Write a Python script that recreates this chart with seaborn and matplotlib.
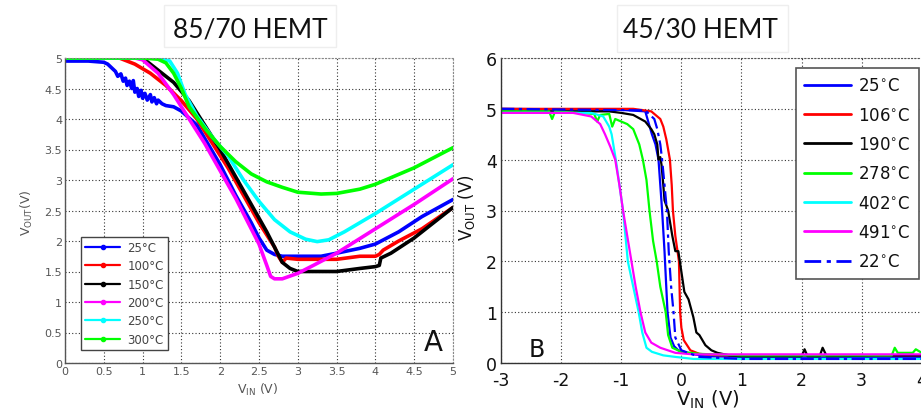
import matplotlib
matplotlib.use("Agg")
import matplotlib.pyplot as plt
import seaborn as sns
import pandas as pd
from matplotlib.lines import Line2D
from matplotlib.patches import Rectangle

sns.set_style("white")
plt.rcParams['font.family'] = ['DejaVu Sans']

# ---------------- Panel A data (85/70 HEMT) ----------------
a_labels = ["25°C", "100°C", "150°C", "200°C", "250°C", "300°C"]
a_colors = ["#0000ff", "#ff0000", "#000000", "#ff00ff", "#00ffff", "#00ff00"]

a25_x = [0, 0.3, 0.5, 0.55, 0.6, 0.65, 0.68, 0.72, 0.75, 0.78, 0.8, 0.83, 0.86, 0.88, 0.9, 0.93, 0.95,
         0.98, 1.0, 1.03, 1.06, 1.1, 1.12, 1.15, 1.18, 1.2, 1.25, 1.3, 1.4, 1.5, 1.7, 2.0, 2.2, 2.4,
         2.5, 2.6, 2.7, 2.8, 3.0, 3.3, 3.5, 3.8, 4.0, 4.3, 4.6, 5.0]
a25_y = [4.95, 4.95, 4.93, 4.9, 4.84, 4.78, 4.7, 4.74, 4.62, 4.67, 4.55, 4.62, 4.5, 4.63, 4.44, 4.5, 4.37,
         4.47, 4.34, 4.42, 4.31, 4.4, 4.28, 4.35, 4.25, 4.31, 4.25, 4.22, 4.2, 4.13, 3.9, 3.25, 2.75, 2.3,
         2.05, 1.85, 1.78, 1.75, 1.75, 1.75, 1.8, 1.88, 1.95, 2.15, 2.4, 2.68]
a100_x = [0, 0.7, 0.9, 1.1, 1.3, 1.5, 1.7, 1.9, 2.1, 2.3, 2.5, 2.6, 2.7, 2.75, 2.8, 2.85, 3.0, 3.5,
          3.8, 4.0, 4.05, 4.1, 4.3, 4.6, 5.0]
a100_y = [5.0, 5.0, 4.9, 4.75, 4.55, 4.3, 4.0, 3.6, 3.2, 2.75, 2.3, 2.1, 1.9, 1.75, 1.65, 1.72, 1.7, 1.7,
          1.75, 1.75, 1.78, 1.85, 2.0, 2.2, 2.55]
a150_x = [0, 1.0, 1.2, 1.4, 1.6, 1.8, 2.0, 2.2, 2.4, 2.6, 2.7, 2.8, 2.9, 3.0, 3.5, 3.8, 4.0, 4.05,
          4.07, 4.2, 4.5, 5.0]
a150_y = [5.0, 5.0, 4.8, 4.6, 4.3, 3.9, 3.5, 3.05, 2.6, 2.15, 1.9, 1.65, 1.55, 1.5, 1.5, 1.55, 1.58, 1.6,
          1.72, 1.8, 2.05, 2.55]
a200_x = [0, 0.9, 1.0, 1.2, 1.4, 1.6, 1.8, 2.0, 2.2, 2.4, 2.5, 2.6, 2.65, 2.7, 2.8, 3.0, 3.2, 3.5,
          4.0, 4.5, 5.0]
a200_y = [5.0, 5.0, 4.97, 4.75, 4.4, 4.0, 3.6, 3.15, 2.7, 2.2, 1.95, 1.6, 1.42, 1.38, 1.38, 1.47, 1.6,
          1.8, 2.2, 2.6, 3.02]
a250_x = [0, 1.2, 1.35, 1.45, 1.55, 1.7, 1.9, 2.1, 2.3, 2.5, 2.7, 2.9, 3.1, 3.25, 3.4, 3.6, 4.0,
          4.5, 5.0]
a250_y = [5.0, 5.0, 4.95, 4.75, 4.4, 4.05, 3.7, 3.4, 3.0, 2.65, 2.35, 2.15, 2.03, 1.99, 2.02, 2.15, 2.45,
          2.85, 3.25]
a300_x = [0, 1.0, 1.2, 1.3, 1.4, 1.5, 1.6, 1.8, 2.0, 2.2, 2.4, 2.6, 2.8, 3.0, 3.3, 3.5, 3.8, 4.0,
          4.5, 5.0]
a300_y = [5.0, 5.0, 4.98, 4.92, 4.75, 4.5, 4.2, 3.85, 3.55, 3.3, 3.1, 2.97, 2.88, 2.8, 2.77, 2.78, 2.85,
          2.93, 3.2, 3.53]
a_series = [(a25_x, a25_y), (a100_x, a100_y), (a150_x, a150_y), (a200_x, a200_y),
            (a250_x, a250_y), (a300_x, a300_y)]

# ---------------- Panel B data (45/30 HEMT) ----------------
b_labels = ["25$^{\\circ}$C", "106$^{\\circ}$C", "190$^{\\circ}$C", "278$^{\\circ}$C",
            "402$^{\\circ}$C", "491$^{\\circ}$C", "22$^{\\circ}$C"]
b_colors = ["#0000ff", "#ff0000", "#000000", "#00ff00", "#00ffff", "#ff00ff", "#0000ff"]

b25_x = [-3, -1.0, -0.6, -0.49, -0.43, -0.38, -0.35, -0.32, -0.28, -0.23, -0.18, -0.12, -0.05, 0.2, 0.5, 1.0, 4.0]
b25_y = [5.0, 4.98, 4.95, 4.5, 4.3, 4.0, 3.5, 3.0, 2.2, 1.0, 0.5, 0.33, 0.25, 0.17, 0.13, 0.12, 0.12]
b106_x = [-3, -0.8, -0.5, -0.35, -0.3, -0.25, -0.19, -0.16, -0.14, -0.1, -0.04, -0.02, 0.0, 0.04, 0.15, 0.3, 0.6, 4.0]
b106_y = [5.0, 5.0, 4.95, 4.8, 4.65, 4.4, 4.0, 3.5, 3.0, 2.5, 2.0, 1.0, 0.7, 0.45, 0.25, 0.18, 0.15, 0.15]
b190_x = [-3, -1.2, -1.0, -0.8, -0.6, -0.5, -0.45, -0.4, -0.38, -0.35, -0.33, -0.3, -0.28, -0.22, -0.15,
          -0.1, -0.05, 0.0, 0.05, 0.12, 0.2, 0.25, 0.3, 0.4, 0.5, 0.6, 0.8, 1.0, 2.0, 2.05, 2.1, 2.3,
          2.35, 2.42, 3.3, 4.0]
b190_y = [4.95, 4.95, 4.92, 4.88, 4.75, 4.6, 4.5, 4.3, 4.0, 4.05, 3.9, 3.5, 3.2, 3.0, 2.5, 2.2, 2.2, 1.8,
          1.4, 1.25, 0.9, 0.6, 0.55, 0.35, 0.25, 0.2, 0.15, 0.13, 0.13, 0.27, 0.13, 0.13, 0.3, 0.13, 0.15, 0.15]
b278_x = [-3, -2.2, -2.15, -2.1, -1.45, -1.4, -1.35, -1.2, -1.15, -1.1, -0.9, -0.8, -0.7, -0.64, -0.58,
          -0.53, -0.47, -0.41, -0.35, -0.26, -0.22, -0.15, 0.0, 0.3, 1.0, 2.5, 3.5, 3.55, 3.6, 3.85, 3.9, 4.0]
b278_y = [4.95, 4.95, 4.8, 4.95, 4.9, 4.75, 4.88, 4.9, 4.65, 4.8, 4.7, 4.6, 4.3, 4.0, 3.6, 3.0, 2.4, 2.0,
          1.5, 1.0, 0.55, 0.3, 0.22, 0.18, 0.15, 0.15, 0.15, 0.3, 0.2, 0.2, 0.27, 0.2]
b402_x = [-3, -1.5, -1.3, -1.2, -1.16, -1.09, -1.03, -0.97, -0.93, -0.89, -0.8, -0.71, -0.65, -0.58, -0.49,
          -0.3, -0.1, 0.2, 4.0]
b402_y = [4.92, 4.92, 4.85, 4.65, 4.5, 4.0, 3.5, 3.0, 2.5, 2.0, 1.5, 1.0, 0.6, 0.3, 0.22, 0.15, 0.12, 0.08, 0.08]
b491_x = [-3, -1.8, -1.5, -1.35, -1.27, -1.18, -1.1, -1.03, -0.97, -0.9, -0.83, -0.76, -0.68, -0.6, -0.5,
          -0.35, -0.1, 0.2, 4.0]
b491_y = [4.92, 4.92, 4.85, 4.7, 4.5, 4.25, 4.0, 3.5, 3.0, 2.5, 2.0, 1.5, 1.0, 0.6, 0.4, 0.3, 0.2, 0.17, 0.17]
b22_x = [-3, -0.6, -0.45, -0.4, -0.35, -0.32, -0.28, -0.24, -0.21, -0.17, -0.13, -0.1, 0.0, 0.3, 1.0, 4.0]
b22_y = [5.0, 4.97, 4.8, 4.6, 4.3, 4.0, 3.5, 3.0, 2.2, 1.5, 1.0, 0.5, 0.25, 0.12, 0.08, 0.08]
b_series = [(b25_x, b25_y), (b106_x, b106_y), (b190_x, b190_y), (b278_x, b278_y),
            (b402_x, b402_y), (b491_x, b491_y), (b22_x, b22_y)]

# ---------------- Figure ----------------
W, H = 921, 414
fig = plt.figure(figsize=(W / 100, H / 100), dpi=100)
fig.patch.set_facecolor("white")


def fx(px):
    return px / W


def fy(py):
    return 1 - py / H


grid_kw = dict(color="#333333", linestyle=(0, (1, 2)), linewidth=0.8)

# ----- Panel A -----
axA = fig.add_axes([fx(65), fy(364), fx(453) - fx(65), fy(59) - fy(364)])
for (x, y), lab, col in zip(a_series, a_labels, a_colors):
    sns.lineplot(x=x, y=y, ax=axA, color=col, lw=2.6, sort=False, estimator=None, legend=False)
axA.set_xlim(0, 5)
axA.set_ylim(0, 5)
axA.set_xticks([0, 0.5, 1, 1.5, 2, 2.5, 3, 3.5, 4, 4.5, 5])
axA.set_xticklabels(["0", "0.5", "1", "1.5", "2", "2.5", "3", "3.5", "4", "4.5", "5"])
axA.set_yticks([0, 0.5, 1, 1.5, 2, 2.5, 3, 3.5, 4, 4.5, 5])
axA.set_yticklabels(["0", "0.5", "1", "1.5", "2", "2.5", "3", "3.5", "4", "4.5", "5"])
axA.tick_params(labelsize=8, labelcolor="#555555", direction="in", length=3, color="#555555", pad=2)
axA.grid(True, **grid_kw)
for s in ["left", "bottom"]:
    axA.spines[s].set_color("#555555")
    axA.spines[s].set_linewidth(1.0)
for s in ["top", "right"]:
    axA.spines[s].set_color("#888888")
    axA.spines[s].set_linestyle((0, (1, 2)))
    axA.spines[s].set_linewidth(0.8)
axA.set_xlabel("")
axA.set_ylabel("")
handlesA = [Line2D([0], [0], color=c, lw=1.6, marker=".", markersize=6) for c in a_colors]
legA = axA.legend(handlesA, a_labels, loc="upper left", bbox_to_anchor=(0.041, 0.413), borderaxespad=0,
                  fontsize=8.5, labelspacing=0.45, handlelength=3.0, handletextpad=0.6, fancybox=False,
                  framealpha=1, edgecolor="#444444", numpoints=1, borderpad=0.35)
for t in legA.get_texts():
    t.set_color("#444444")
legA.get_frame().set_linewidth(1.0)
axA.text(4.75, 0.35, "A", fontsize=20, ha="center", va="center", color="#111111")
fig.text(fx(27), fy(213), "V$_{\\rm OUT}$(V)", rotation=90, ha="center", va="center",
         fontsize=9, color="#555555")
fig.text(fx(258), fy(390), "V$_{\\rm IN}$ (V)", ha="center", va="center", fontsize=9, color="#555555")

# ----- Panel B -----
axB = fig.add_axes([fx(501), fy(364), fx(921.8) - fx(501), fy(59) - fy(364)])
styles = ["-", "-", "-", "-", "-", "-", (0, (6, 2, 1.5, 2))]
for (x, y), lab, col, ls in zip(b_series, b_labels, b_colors, styles):
    sns.lineplot(x=x, y=y, ax=axB, color=col, lw=1.6, sort=False, estimator=None, legend=False,
                 linestyle=ls)
axB.set_xlim(-3, 4)
axB.set_ylim(0, 6)
axB.set_xticks([-3, -2, -1, 0, 1, 2, 3, 4])
axB.set_xticklabels(["-3", "-2", "-1", "0", "1", "2", "3", "4"])
axB.set_yticks([0, 1, 2, 3, 4, 5, 6])
axB.set_yticklabels(["0", "1", "2", "3", "4", "5", "6"])
axB.tick_params(labelsize=12.5, labelcolor="#111111", direction="in", length=3, pad=3)
axB.tick_params(axis="x", pad=6)
axB.grid(True, **grid_kw)
for s in ["left", "bottom"]:
    axB.spines[s].set_color("#333333")
    axB.spines[s].set_linewidth(1.0)
axB.spines["top"].set_color("#555555")
axB.spines["top"].set_linestyle((0, (1, 2)))
axB.spines["top"].set_linewidth(0.8)
axB.spines["right"].set_visible(False)
axB.set_xlabel("")
axB.set_ylabel("")
handlesB = [Line2D([0], [0], color=c, lw=2, linestyle=ls) for c, ls in zip(b_colors, styles)]
legB = axB.legend(handlesB, b_labels, loc="upper left", bbox_to_anchor=(0.70, 0.967), borderaxespad=0,
                  fontsize=12, labelspacing=0.68, handlelength=2.8, handletextpad=0.45, fancybox=False,
                  framealpha=1, edgecolor="#555555", borderpad=0.5)
legB.get_frame().set_linewidth(1.2)
for t in legB.get_texts():
    t.set_color("#111111")
axB.text(-2.4, 0.27, "B", fontsize=17, ha="center", va="center", color="#111111")
fig.text(fx(466), fy(208), "V$_{\\rm OUT}$ (V)", rotation=90, ha="center", va="center",
         fontsize=12, color="#111111")
fig.text(fx(708), fy(400), "V$_{\\rm IN}$ (V)", ha="center", va="center", fontsize=14, color="#111111")

# ----- titles with light boxes -----
for (x0, x1, y0, y1) in [(164, 336, 6, 48), (617, 788, 6, 53)]:
    fig.patches.append(Rectangle((fx(x0), fy(y1)), fx(x1) - fx(x0), fy(y0) - fy(y1),
                                 transform=fig.transFigure, facecolor="white",
                                 edgecolor="#eeeeee", linewidth=1.0, zorder=0))
fig.text(fx(250), fy(30), "85/70 HEMT", ha="center", va="center", fontsize=19,
         family=["Lato", "DejaVu Sans"], color="#111111")
fig.text(fx(700), fy(30), "45/30 HEMT", ha="center", va="center", fontsize=19,
         family=["Lato", "DejaVu Sans"], color="#111111")

fig.savefig("out.png", dpi=100, facecolor="white")
